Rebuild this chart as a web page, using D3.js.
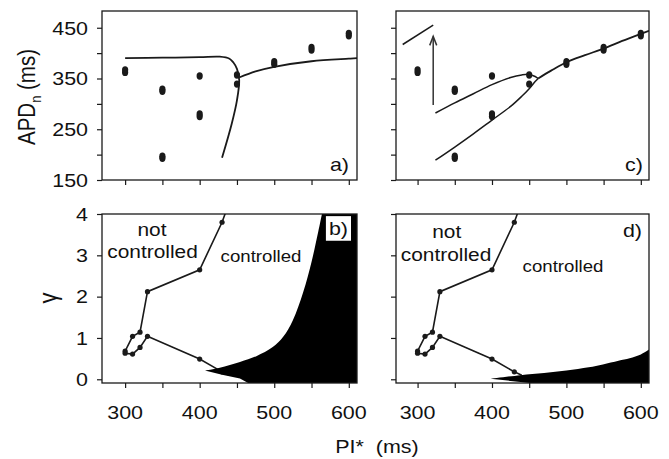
<!DOCTYPE html>
<html>
<head>
<meta charset="utf-8">
<script src="https://cdn.jsdelivr.net/npm/d3@7"></script>
<style>
  body { margin: 0; background: #fff; }
  svg { display: block; }
  text { font-family: "Liberation Sans", Arial, Helvetica, sans-serif; fill: #111; white-space: pre; }
</style>
</head>
<body>
<svg id="viz" width="669" height="459"></svg>
<script>
// ---- data ----
const PI_TICKS = [300, 350, 400, 450, 500, 550, 600];
const PI_LABELS = [300, 400, 500, 600];
const APD_TICKS = [150, 200, 250, 300, 350, 400, 450];
const APD_LABELS = [150, 250, 350, 450];
const GAMMA_TICKS = [0, 1, 2, 3, 4];

// measured APD_n, same in panels a) and c)
const DOT_PI  = [300, 300, 350, 350, 350, 350, 400, 400, 400, 450, 450, 500, 500, 550, 550, 600, 600];
const DOT_APD = [362, 367, 325, 329, 193, 197, 355, 275, 280, 357, 339, 378, 383, 406, 411, 434, 439];

// model curves [PI*, APD]
const CURVE_A_LEFT = [[300, 390], [350, 391], [400, 392], [427, 393], [440, 389], [445, 382],
                      [450, 369], [453, 347], [450, 307], [443, 261], [430, 194]];
const CURVE_A_RIGHT = [[453, 352], [475, 364], [500, 373], [550, 384], [600, 389], [611, 390]];

const CURVE_C_STUB = [[280, 417], [321, 455]];
const ARROW_C = [[321, 298], [321, 433]];
const CURVE_C_UPPER = [[324, 282], [350, 302], [375, 320], [400, 338], [425, 352], [440, 357],
                       [450, 358], [458, 354], [462, 350]];
const CURVE_C_LOWER = [[324, 189], [350, 215], [375, 241], [400, 268], [425, 295], [440, 315],
                       [450, 330], [458, 344], [462, 350]];
const CURVE_C_MERGED = [[462, 350], [480, 366], [500, 382], [525, 396], [550, 409], [575, 424],
                        [600, 438], [611, 444]];

// control boundary gamma(PI*), same in b) and d)
const BOUND_PI    = [430, 400, 330, 320, 310, 300, 300, 310, 320, 330, 400, 430];
const BOUND_GAMMA = [3.80, 2.65, 2.12, 1.14, 1.04, 0.68, 0.63, 0.61, 0.77, 1.04, 0.49, 0.18];
const BOUND_TOP_END = [436, 4.1];
const BOUND_BOTTOM_END = [440, 0.1];

// black (unstable) regions, edges meeting at the tip
const REGION_B_UPPER = [[407, 0.21], [427, 0.28], [454, 0.42], [476, 0.56], [498, 0.78], [512, 1.03],
                        [525, 1.43], [539, 2.12], [550, 2.84], [559, 3.57], [564, 4.0]];
const REGION_B_LOWER = [[407, 0.21], [430, 0.11], [454, 0.02], [465, -0.09]];
const REGION_D_UPPER = [[398, 0.01], [438, 0.10], [470, 0.15], [500, 0.21], [530, 0.29], [549, 0.36],
                        [570, 0.45], [585, 0.51], [600, 0.60], [611, 0.72]];
const REGION_D_LOWER = [[398, 0.01], [425, -0.04], [451, -0.09]];

// ---- layout ----
const SX = 1.13; // source figure is a bit stretched sideways
const INK = "#1a1a1a";
const COLS = [{ x0: 102, x1: 357, dom: [269, 611] }, { x0: 396, x1: 649, dom: [271, 611] }];
const ROWS = [{ y0: 11, y1: 180, dom: [150, 483] }, { y0: 214, y1: 383, dom: [-0.09, 4] }];

const svg = d3.select("#viz");

function label(g, x, y, str, { size = 19, anchor = "middle", rotate = 0 } = {}) {
  return g.append("text")
    .attr("transform", `translate(${x},${y}) scale(${SX},1)` + (rotate ? ` rotate(${rotate})` : ""))
    .attr("text-anchor", anchor)
    .attr("font-size", size)
    .text(str);
}

let clipCount = 0;
function makePanel(ci, ri) {
  const c = COLS[ci], r = ROWS[ri];
  const x = d3.scaleLinear().domain(c.dom).range([c.x0, c.x1]);
  const y = d3.scaleLinear().domain(r.dom).range([r.y1, r.y0]);
  const id = "clip" + clipCount++;
  svg.append("clipPath").attr("id", id)
    .append("rect").attr("x", c.x0).attr("y", r.y0).attr("width", c.x1 - c.x0).attr("height", r.y1 - r.y0);
  const plot = svg.append("g").attr("clip-path", `url(#${id})`);
  return { x, y, plot, c, r };
}

function finishPanel(p, ci, ri) {
  const { x, y, c, r } = p;
  const ax = svg.append("g").attr("transform", `translate(0,${r.y1})`)
    .call(d3.axisBottom(x).tickValues(PI_TICKS).tickSize(5).tickFormat(""));
  const ay = svg.append("g").attr("transform", `translate(${c.x0},0)`)
    .call(d3.axisLeft(y).tickValues(ri === 0 ? APD_TICKS : GAMMA_TICKS).tickSize(5).tickFormat(""));
  [ax, ay].forEach(a => {
    a.select(".domain").remove();
    a.selectAll("line").attr("stroke", INK).attr("stroke-width", 1.2);
  });
  svg.append("rect")
    .attr("x", c.x0).attr("y", r.y0).attr("width", c.x1 - c.x0).attr("height", r.y1 - r.y0)
    .attr("fill", "none").attr("stroke", INK).attr("stroke-width", 1.3);

  if (ci === 0) {
    (ri === 0 ? APD_LABELS : GAMMA_TICKS).forEach(v => label(svg, 88, y(v) + 6.8, String(v), { anchor: "end" }));
  }
  if (ri === 1) {
    PI_LABELS.forEach(v => label(svg, x(v), 419, String(v)));
  }
}

const curve = (p) => d3.line().x(d => p.x(d[0])).y(d => p.y(d[1])).curve(d3.curveCatmullRom);
const straight = (p) => d3.line().x(d => p.x(d[0])).y(d => p.y(d[1]));

function drawCurve(p, pts, width = 1.8) {
  p.plot.append("path").attr("d", curve(p)(pts))
    .attr("fill", "none").attr("stroke", INK).attr("stroke-width", width);
}

function drawApdDots(p) {
  p.plot.selectAll(null).data(DOT_PI.map((v, i) => [v, DOT_APD[i]])).join("ellipse")
    .attr("cx", d => p.x(d[0])).attr("cy", d => p.y(d[1]))
    .attr("rx", 3.1).attr("ry", 3.7).attr("fill", INK);
}

function drawBoundary(p) {
  const pts = BOUND_PI.map((v, i) => [v, BOUND_GAMMA[i]]);
  p.plot.append("path").attr("d", straight(p)([BOUND_TOP_END, ...pts, BOUND_BOTTOM_END]))
    .attr("fill", "none").attr("stroke", INK).attr("stroke-width", 1.6);
  p.plot.selectAll(null).data(pts).join("circle")
    .attr("cx", d => p.x(d[0])).attr("cy", d => p.y(d[1])).attr("r", 2.6).attr("fill", INK);
}

function drawRegion(p, upper, lower) {
  const [, xmax] = p.x.domain(), [ymin, ymax] = p.y.domain();
  const last = upper[upper.length - 1];
  const corners = last[1] >= ymax ? [[xmax, ymax], [xmax, ymin]] : [[xmax, ymin]];
  const rest = [...corners, ...lower.slice().reverse()];
  const d = curve(p)(upper) + straight(p)(rest).replace(/^M/, "L") + "Z";
  p.plot.append("path").attr("d", d).attr("fill", "#000");
}

// a)
const pa = makePanel(0, 0);
drawApdDots(pa);
drawCurve(pa, CURVE_A_LEFT);
drawCurve(pa, CURVE_A_RIGHT);
finishPanel(pa, 0, 0);
label(svg, 349, 171, "a)", { anchor: "end" });

// c)
const pc = makePanel(1, 0);
drawApdDots(pc);
drawCurve(pc, CURVE_C_STUB, 1.5);
drawCurve(pc, CURVE_C_UPPER, 1.5);
drawCurve(pc, CURVE_C_LOWER, 1.5);
drawCurve(pc, CURVE_C_MERGED);
{
  const [a, b] = ARROW_C;
  const hx = pc.x(b[0]), hy = pc.y(b[1]);
  pc.plot.append("line").attr("x1", pc.x(a[0])).attr("y1", pc.y(a[1])).attr("x2", hx).attr("y2", hy)
    .attr("stroke", "#333").attr("stroke-width", 1.5);
  pc.plot.append("path").attr("d", `M${hx - 3.5},${hy + 9}L${hx},${hy}L${hx + 3.5},${hy + 9}`)
    .attr("fill", "none").attr("stroke", "#333").attr("stroke-width", 1.5);
}
finishPanel(pc, 1, 0);
label(svg, 643, 171, "c)", { anchor: "end" });

// b)
const pb = makePanel(0, 1);
drawBoundary(pb);
drawRegion(pb, REGION_B_UPPER, REGION_B_LOWER);
finishPanel(pb, 0, 1);
label(svg, 152, 235.5, "not", { size: 18.5 });
label(svg, 152.5, 258.3, "controlled", { size: 18.5 });
label(svg, 261, 261.5, "controlled", { size: 16.5 });
{
  // panel tag sits on a white patch over the black region
  const tag = label(svg, 348, 235, "b)", { anchor: "end" });
  const bb = tag.node().getBBox();
  svg.insert("rect", () => tag.node())
    .attr("x", 348 - bb.width * SX - 3).attr("y", 235 + bb.y - 2)
    .attr("width", bb.width * SX + 6).attr("height", bb.height + 4)
    .attr("fill", "#fff");
}

// d)
const pd = makePanel(1, 1);
drawBoundary(pd);
drawRegion(pd, REGION_D_UPPER, REGION_D_LOWER);
finishPanel(pd, 1, 1);
label(svg, 446.7, 238, "not", { size: 18.5 });
label(svg, 446, 260.7, "controlled", { size: 18.5 });
label(svg, 563, 271.5, "controlled", { size: 16.5 });
label(svg, 642, 237, "d)", { anchor: "end" });

// axis titles
const apd = label(svg, 35, 97, "APD", { size: 20.5, rotate: -90 });
apd.append("tspan").attr("font-size", 13).attr("dy", 5).text("n");
apd.append("tspan").attr("dy", -5).text(" (ms)");
label(svg, 56.5, 298, "γ", { size: 22, rotate: -90 });
label(svg, 377, 453, "PI*  (ms)", { size: 19 });
</script>
</body>
</html>
